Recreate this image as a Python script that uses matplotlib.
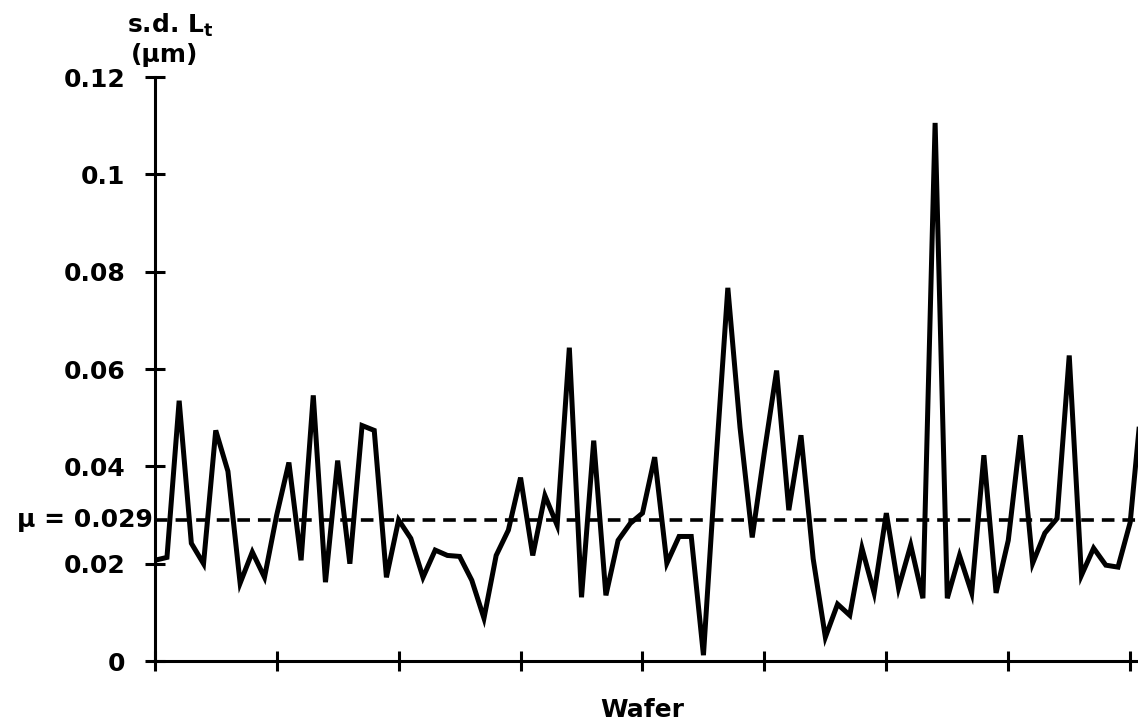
import numpy as np
import matplotlib.pyplot as plt

plt.rcParams['font.family'] = ['DejaVu Sans']
plt.rcParams['font.weight'] = 'bold'
plt.rcParams['mathtext.default'] = 'bf'

# s.d. of Lt per wafer
sd_lt = [0.0207, 0.0213, 0.0535, 0.0242, 0.0200, 0.0474, 0.0390, 0.0160, 0.0224, 0.0172,
         0.0300, 0.0408, 0.0207, 0.0546, 0.0162, 0.0412, 0.0200, 0.0484, 0.0474, 0.0172,
         0.0290, 0.0252, 0.0172, 0.0228, 0.0217, 0.0215, 0.0166, 0.0088, 0.0217, 0.0269,
         0.0377, 0.0217, 0.0340, 0.0279, 0.0644, 0.0131, 0.0453, 0.0135, 0.0248, 0.0283,
         0.0304, 0.0419, 0.0201, 0.0256, 0.0256, 0.0012, 0.0400, 0.0767, 0.0480, 0.0254,
         0.0430, 0.0597, 0.0310, 0.0464, 0.0210, 0.0049, 0.0117, 0.0094, 0.0232, 0.0140,
         0.0304, 0.0150, 0.0238, 0.0129, 0.1106, 0.0129, 0.0217, 0.0140, 0.0423, 0.0140,
         0.0248, 0.0464, 0.0201, 0.0263, 0.0293, 0.0628, 0.0176, 0.0232, 0.0197, 0.0193,
         0.0285, 0.0550]
wafer = np.arange(1, len(sd_lt) + 1)
mu = 0.029

y_ticks = [0, 0.02, 0.04, 0.06, 0.08, 0.1, 0.12]
y_labels = ["0", "0.02", "0.04", "0.06", "0.08", "0.1", "0.12"]
x_ticks = np.arange(1, 82, 10)

fig = plt.figure(figsize=(11.38, 7.28), dpi=100)
ax = fig.add_axes([0.136, 0.092, 0.864, 0.802])

ax.plot(wafer, sd_lt, color='black', lw=3.6, solid_joinstyle='miter')
ax.axhline(mu, color='black', lw=2.6, ls=(0, (3.5, 2.2)))

ax.set_xlim(1, 81.64)
ax.set_ylim(0, 0.12)
ax.set_yticks(y_ticks)
ax.set_yticklabels(y_labels)
ax.set_xticks(x_ticks)
ax.set_xticklabels([])

for s in ['top', 'right']:
    ax.spines[s].set_visible(False)
for s in ['left', 'bottom']:
    ax.spines[s].set_linewidth(2.2)
ax.tick_params(direction='inout', length=14, width=2.2, labelsize=18, pad=14)

ax.text(-0.002, mu, "\u03bc = 0.029", transform=ax.get_yaxis_transform(),
        ha='right', va='center', fontsize=18, fontweight='bold')

fig.text(170 / 1138, 1 - 25 / 728, "s.d. L$_{t}$", ha='center', va='center',
         fontsize=18, fontweight='bold')
fig.text(165 / 1138, 1 - 55 / 728, "(\u03bcm)", ha='center', va='center',
         fontsize=18, fontweight='bold')
fig.text(642 / 1138, 1 - 710 / 728, "Wafer", ha='center', va='center',
         fontsize=18, fontweight='bold')

fig.savefig('out.png', dpi=100)
